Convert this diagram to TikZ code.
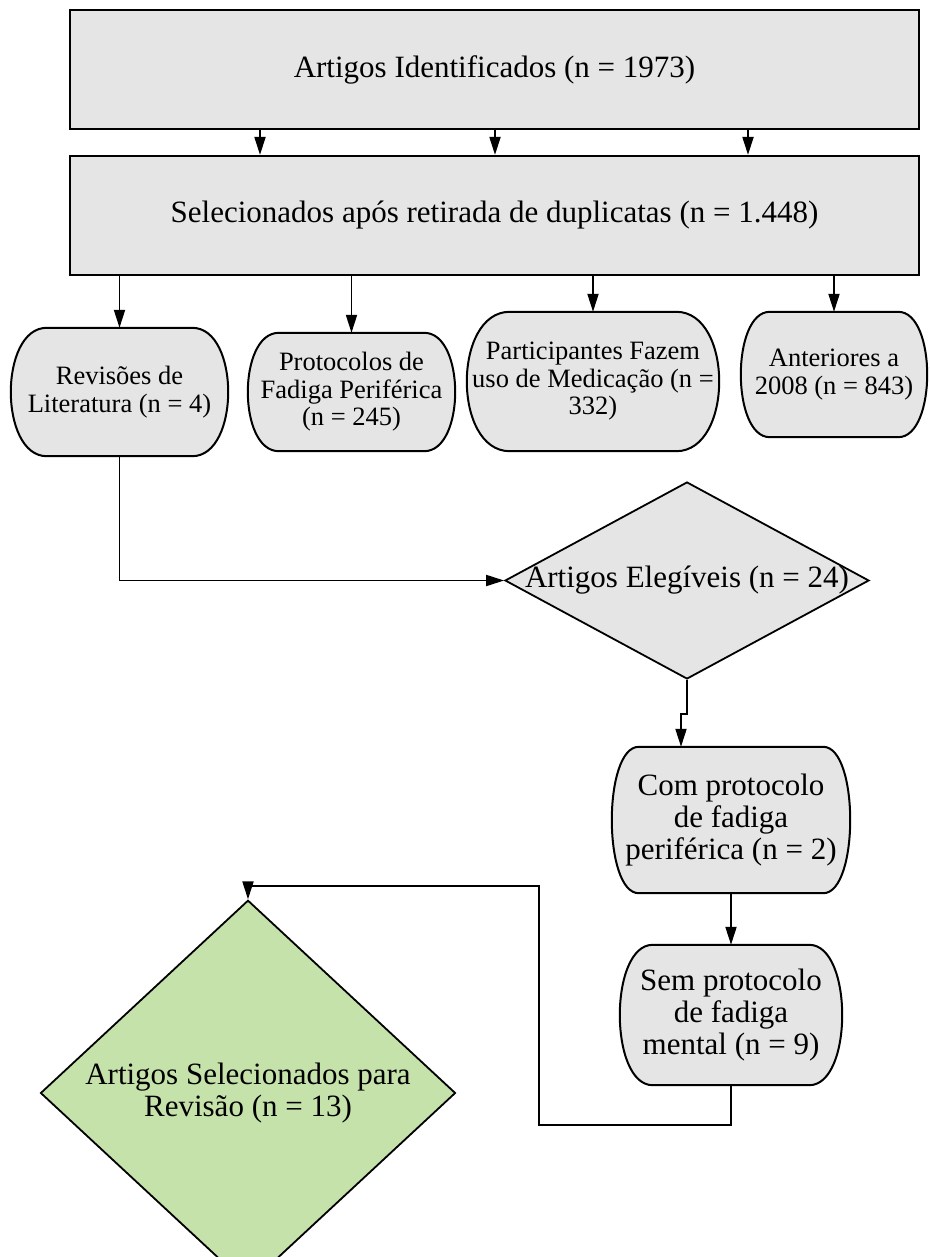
\documentclass[tikz,border=0pt]{standalone}
\usepackage{fontspec}
\setmainfont{Liberation Serif}
\usetikzlibrary{shapes.geometric,arrows.meta,backgrounds,calc}
\definecolor{boxgray}{HTML}{E5E5E5}
\definecolor{boxgreen}{HTML}{C6E2AB}
\tikzset{
 bigtext/.style={font=\fontsize{31}{32}\selectfont},
 smalltext/.style={font=\fontsize{26.5}{27.5}\selectfont},
 bigbox/.style={rectangle, draw, line width=2.2pt, fill=boxgray, minimum width=849pt, minimum height=119pt, inner sep=0pt, bigtext},
 barrelnode/.style={rectangle, inner sep=0pt, align=center},
 dia/.style={diamond, draw, line width=1.8pt, inner sep=0pt, bigtext, align=center},
 arr/.style={line width=1.9pt, -{Triangle[length=18pt,width=11pt]}},
 barrelline/.style={draw, line width=2pt, fill=boxgray},
}
\newcommand\drawbarrel[2]{%
 \path[barrelline] ([xshift=#2]#1.north west) -- ([xshift=-#2]#1.north east)
 .. controls ([xshift={#2/3}]#1.north east) and ([xshift={#2/3}]#1.south east) .. ([xshift=-#2]#1.south east)
 -- ([xshift=#2]#1.south west)
 .. controls ([xshift={-#2/3}]#1.south west) and ([xshift={-#2/3}]#1.north west) .. cycle;}
\begin{document}
\begin{tikzpicture}[x=1pt,y=-1pt]
\useasboundingbox (0,0) rectangle (929,1257);
\node[bigbox] (b1) at (494.5,69.5) {Artigos Identificados (n = 1973)};
\node[bigbox] (b2) at (494.5,215.5) {Selecionados após retirada de duplicatas (n = 1.448)};
\node[barrelnode, smalltext, minimum width=217pt, minimum height=128pt] (rev) at (119.5,392) {Revisões de\\Literatura (n = 4)};
\node[barrelnode, smalltext, minimum width=207pt, minimum height=118pt] (prot) at (351.5,392) {Protocolos de\\Fadiga Periférica\\(n = 245)};
\node[barrelnode, smalltext, minimum width=252pt, minimum height=139pt] (part) at (593,381.5) {Participantes Fazem\\uso de Medicação (n =\\332)};
\node[barrelnode, smalltext, minimum width=186pt, minimum height=125pt] (ant) at (834,374.5) {Anteriores a\\2008 (n = 843)};
\node[dia, fill=boxgray, minimum width=364pt, minimum height=197pt] (eleg) at (687,580.5) {\makebox[0pt]{Artigos Elegíveis (n = 24)}};
\node[barrelnode, bigtext, minimum width=238pt, minimum height=146pt] (com) at (731,820) {Com protocolo\\de fadiga\\periférica (n = 2)};
\node[barrelnode, bigtext, minimum width=222pt, minimum height=140pt] (sem) at (731,1015) {Sem protocolo\\de fadiga\\mental (n = 9)};
\node[dia, fill=boxgreen, minimum width=415pt, minimum height=336pt] (fin) at (248,1093) {Artigos Selecionados para\\Revisão (n = 13)};
\begin{pgfonlayer}{background}
\drawbarrel{rev}{36}
\drawbarrel{prot}{31}
\drawbarrel{part}{43}
\drawbarrel{ant}{29}
\drawbarrel{com}{27}
\drawbarrel{sem}{33}
\end{pgfonlayer}
\foreach \dx in {-234.5,0.5,253.5} \draw[arr] ([xshift=\dx]b1.south) -- ([xshift=\dx]b2.north);
\foreach \n in {rev,prot,part,ant} \draw[arr] (b2.south -| \n.north) -- (\n.north);
\draw[arr] (rev.south) |- (eleg.west);
\draw[arr] (eleg.south) -- ++(0,34) -| ([xshift=-50]com.north);
\draw[arr] (com.south) -- (sem.north);
\coordinate (loopA) at (539,886);
\draw[arr] (sem.south) -- ++(0,40) -| (loopA) -| (fin.north);
\end{tikzpicture}
\end{document}
